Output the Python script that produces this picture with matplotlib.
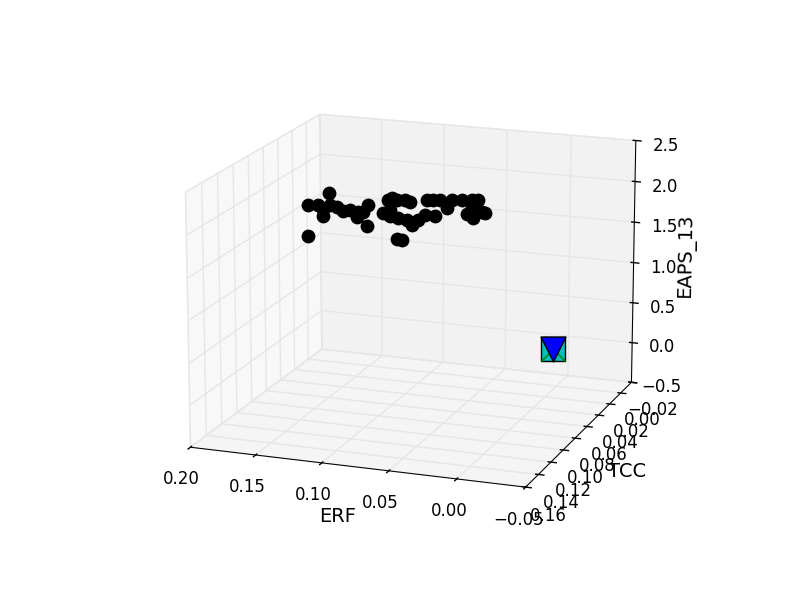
import numpy as np
import matplotlib
matplotlib.use('Agg')
import matplotlib.pyplot as plt

plt.style.use('classic')
plt.rcParams['font.family'] = 'DejaVu Sans'
plt.rcParams['font.size'] = 12

erf = [0.1486,0.1654,0.157,0.1531,0.1532,0.1479,0.1427,0.1375,0.1323,0.1271,0.1258,0.1219,0.118,0.1194,0.1656,
       0.1025,0.0999,0.0961,0.0897,0.0858,0.1064,0.1012,0.1012,0.0948,0.0884,0.0845,0.0794,0.0743,0.0666,0.0956,0.0923,
       0.073,0.0679,0.0628,0.0577,0.0539,0.0463,0.0387,0.0336,0.0425,0.0374,0.0311,0.0285,0.0387]
tcc = [0.06] * len(erf)
eaps = [2.02,1.85,1.86,1.82,1.73,1.87,1.86,1.81,1.83,1.76,1.82,1.83,1.91,1.66,1.47,
        2.0,2.02,2.0,2.01,2.0,1.83,1.88,1.8,1.79,1.78,1.72,1.79,1.86,1.85,1.54,1.53,
        2.04,2.05,2.05,1.96,2.07,2.08,2.09,2.09,1.92,1.87,1.95,1.95,1.99]
origin_x = [0.003]
origin_y = [0.0]
origin_z = [-0.04]

fig = plt.figure(figsize=(8, 6), dpi=100, facecolor='white')
ax = fig.add_subplot(111, projection='3d')
k = 1.324
w, h = 0.775 * k, 0.8 * k
ax.set_position([0.511 - w / 2, 0.5008 - h / 2, w, h])
ax.set_box_aspect((3.55, 3.6, 2.65), zoom=0.85)
ax.view_init(elev=16, azim=110)
ax.set_xlim(-0.05, 0.20)
ax.set_ylim(-0.02, 0.16)
ax.set_zlim(-0.5, 2.5)
ax.set_xlabel('ERF', fontsize=14, labelpad=11)
ax.set_ylabel('TCC', fontsize=14, labelpad=12)
ax.set_zlabel('EAPS_13', fontsize=14, labelpad=9)
ax.tick_params(axis='x', pad=7)
ax.tick_params(axis='y', pad=8)
ax.tick_params(axis='z', pad=9)
ax.scatter(erf, tcc, eaps, c='k', marker='o', s=80, depthshade=False)
ax.scatter(origin_x, origin_y, origin_z, c='c', marker='s', s=320, depthshade=False)
ax.scatter(origin_x, origin_y, origin_z, c='g', marker='x', s=320, depthshade=False)
ax.scatter(origin_x, origin_y, origin_z, c='b', marker='v', s=320, depthshade=False)
fig.savefig('out.png', dpi=100)
